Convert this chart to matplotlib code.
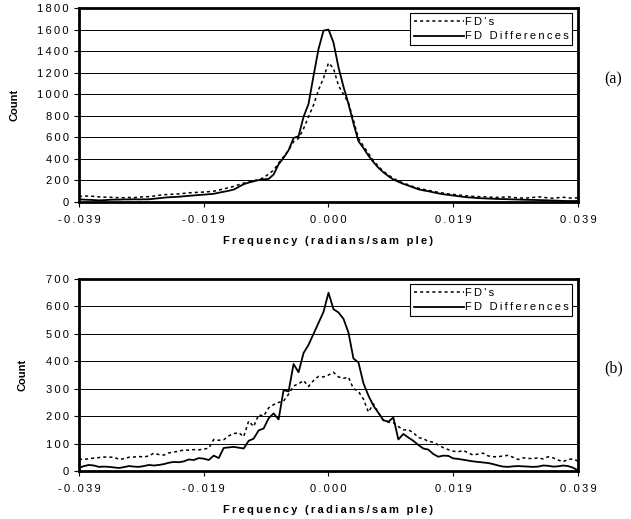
import numpy as np
import matplotlib
matplotlib.use("Agg")
import matplotlib.pyplot as plt

# frequency bins across the band (radians/sample)
freq = np.linspace(-0.039, 0.039, 101)

# (a) histogram counts
fds_a = [50, 55, 55, 52, 48, 45, 45, 42, 40, 40, 42, 40, 45, 48, 50, 55, 62, 68, 70, 72,
         75, 80, 85, 88, 90, 92, 96, 100, 110, 122, 132, 145, 160, 175, 185, 198, 208, 225, 260, 295,
         360, 420, 480, 560, 590, 680, 790, 900, 1040, 1150, 1290, 1240, 1080, 1000, 920, 760, 590, 520, 450, 385,
         330, 285, 250, 220, 195, 175, 160, 142, 128, 118, 108, 98, 90, 82, 75, 70, 65, 60, 55, 52,
         50, 48, 46, 44, 42, 45, 48, 42, 38, 36, 38, 42, 48, 44, 38, 35, 40, 44, 38, 36, 38]
diffs_a = [25, 22, 20, 18, 15, 17, 20, 22, 22, 24, 24, 25, 24, 25, 25, 30, 35, 40, 44, 46,
           49, 53, 57, 61, 65, 68, 72, 76, 86, 95, 104, 115, 140, 165, 180, 192, 203, 210, 214, 255,
           350, 410, 480, 594, 610, 790, 910, 1170, 1420, 1590, 1600, 1480, 1250, 1070, 910, 730, 565, 500, 430, 370,
           318, 275, 240, 208, 188, 168, 152, 135, 118, 108, 100, 90, 80, 72, 66, 60, 54, 48, 43, 40,
           36, 34, 32, 30, 28, 27, 26, 24, 23, 21, 20, 19, 18, 17, 15, 14, 12, 10, 9, 9, 10]

# (b) histogram counts
fds_b = [44, 42, 45, 47, 49, 51, 50, 51, 42, 45, 50, 51, 53, 51, 55, 65, 60, 58, 66, 69,
         72, 77, 76, 78, 77, 80, 83, 115, 112, 114, 128, 136, 140, 125, 182, 162, 205, 200, 230, 242,
         250, 255, 280, 310, 318, 330, 308, 330, 345, 343, 350, 360, 343, 338, 342, 300, 290, 262, 215, 245,
         212, 185, 178, 176, 162, 150, 150, 140, 122, 118, 108, 105, 95, 85, 78, 72, 70, 75, 66, 58,
         62, 65, 55, 52, 52, 55, 57, 50, 42, 48, 46, 45, 48, 44, 52, 48, 40, 34, 42, 44, 36]
diffs_b = [11, 18, 22, 20, 15, 16, 15, 13, 11, 14, 18, 16, 15, 18, 22, 20, 22, 25, 30, 33,
           32, 35, 42, 40, 47, 45, 40, 56, 47, 84, 86, 88, 85, 82, 110, 118, 148, 155, 192, 210,
           188, 295, 290, 390, 360, 430, 460, 500, 540, 580, 650, 590, 578, 555, 505, 410, 396, 320, 275, 238,
           212, 185, 180, 195, 115, 135, 122, 110, 95, 82, 78, 62, 52, 56, 55, 46, 44, 41, 38, 35,
           33, 31, 29, 25, 20, 16, 15, 17, 18, 17, 16, 15, 16, 20, 19, 16, 17, 20, 18, 12, 2]

xtick_vals = [-0.039, -0.0195, 0.0, 0.0195, 0.039]
xtick_labels = ["-0.039", "-0.019", "0.000", "0.019", "0.039"]

FONT = ["Liberation Sans", "DejaVu Sans"]
FS = 8


def spaced(s):
    # wide letter spacing like the old Excel export
    return "\u2009".join(s)


def panel(ax, fds, diffs, ymax, ystep, tag, tag_y):
    ax.plot(freq, fds, color="black", lw=1.1, ls=(0, (2, 2)), label=spaced("FD's"))
    ax.plot(freq, diffs, color="black", lw=1.3, label=spaced("FD Differences"))
    ax.set_xlim(-0.039, 0.039)
    ax.set_ylim(0, ymax)
    yt = np.arange(0, ymax + 1, ystep)
    ax.set_yticks(yt)
    ax.set_yticklabels([spaced(str(v)) for v in yt], family=FONT, fontsize=FS)
    ax.set_xticks(xtick_vals)
    ax.set_xticklabels([spaced(t) for t in xtick_labels], family=FONT, fontsize=FS)
    ax.tick_params(axis="x", direction="out", length=3.5, width=0.8, pad=6)
    ax.tick_params(axis="y", direction="out", length=3.5, width=0.8, pad=4)
    ax.yaxis.grid(True, color="black", lw=0.7)
    ax.set_axisbelow(True)
    for sp in ax.spines.values():
        sp.set_linewidth(2.0)
    ax.set_xlabel(spaced("Frequency (radians/sam ple)"), family=FONT, fontsize=FS,
                  fontweight="bold", labelpad=8)
    ax.set_ylabel("Count", family=FONT, fontsize=FS, fontweight="bold", labelpad=13)
    leg = ax.legend(loc="upper right", bbox_to_anchor=(0.993, 0.985), frameon=True,
                    fancybox=False, framealpha=1, edgecolor="black", handlelength=4.5,
                    handletextpad=0.1, borderpad=0.35, labelspacing=0.4,
                    borderaxespad=0.2, prop={"family": FONT, "size": FS})
    leg.get_frame().set_linewidth(0.8)
    fig.text(0.972, tag_y, tag, family="Liberation Serif", fontsize=11.5,
             ha="center", va="center")


fig = plt.figure(figsize=(6.31, 5.19), dpi=100)
ax1 = fig.add_axes([0.1252, 0.6108, 0.7908, 0.3738])
ax2 = fig.add_axes([0.1252, 0.0925, 0.7908, 0.3699])

panel(ax1, fds_a, diffs_a, 1800, 200, "(a)", 1 - 79 / 519)
panel(ax2, fds_b, diffs_b, 700, 100, "(b)", 1 - 368 / 519)

fig.savefig("out.png", dpi=100)
